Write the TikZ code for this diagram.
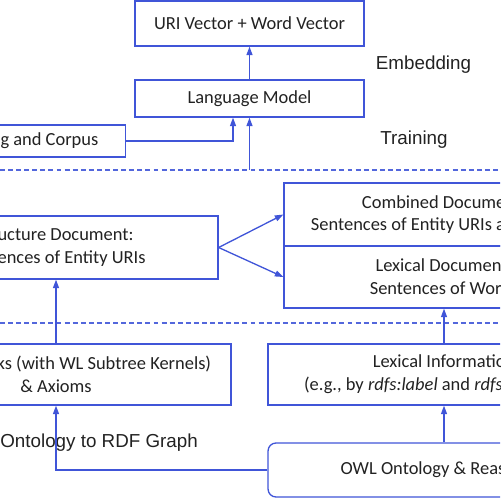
\documentclass[tikz,border=0pt]{standalone}
\usepackage{fontspec}
\setmainfont{Carlito}
\newfontfamily\labelfont{Liberation Sans}
\usetikzlibrary{arrows.meta,positioning,calc}
\definecolor{lineblue}{HTML}{4055D8}
\definecolor{dashblue}{HTML}{5367DC}
\definecolor{inkgray}{HTML}{222222}
\tikzset{
  box/.style={rectangle,draw=lineblue,line width=0.75pt,fill=white,align=center,inner sep=0pt,text=inkgray,font=\fontsize{10.5}{13}\selectfont},
  roundbox/.style={box,rounded corners=0.16cm},
  arrow/.style={-{Triangle[length=1.7mm,width=1.2mm]},line width=0.75pt,lineblue},
  dashline/.style={line width=0.6pt,dashblue,dash pattern=on 2.8pt off 1.8pt},
  stagelabel/.style={font=\labelfont\fontsize{10.7}{13}\selectfont,text=inkgray,inner sep=0pt}
}

\begin{document}
\begin{tikzpicture}[x=0.02cm,y=-0.02cm]
    \useasboundingbox (0,0) rectangle (500,500);
    \clip (0,0) rectangle (500,500);
    % training / embedding part
    \node[box,minimum width=4.58cm,minimum height=0.9cm] (vec) at (249.5,23.5) {URI Vector + Word Vector};
    \node[box,minimum width=4.58cm,minimum height=0.74cm] (lm) at (249.5,98.5) {Language Model};
    \node[box,anchor=east,inner xsep=0.54cm,minimum height=0.64cm] (corpus) at (126,141) {Pre-training and Corpus};
    \node[stagelabel] (embed) at (423.5,65) {Embedding};
    \node[stagelabel] (train) at (414,140) {Training};
    \coordinate (upper) at (249.5,170);
    \draw[dashline] (0,170) -- (500,170);
    % documents
    \node[box,minimum width=6.52cm,minimum height=1.26cm] (sdoc) at (55,247.5) {Structure Document:\\Sentences of Entity URIs};
    \node[box,minimum width=6.4cm,minimum height=1.26cm] (cdoc) at (444,214.5) {Combined Document:\\Sentences of Entity URIs and Words};
    \node[box,minimum width=6.4cm,minimum height=1.24cm] (ldoc) at (444,277) {Lexical Document:\\Sentences of Words};
    \draw[dashline] (0,323) -- (500,323);
    % extraction
    \node[box,minimum width=7cm,minimum height=1.22cm] (graph) at (56,374.5) {Random Walks (with WL Subtree Kernels)\\\& Axioms};
    \node[box,minimum width=7.04cm,minimum height=1.22cm] (lexinfo) at (444,374.5) {Lexical Information\\(e.g., by \textit{rdfs:label} and \textit{rdfs:comment})};
    \node[stagelabel,anchor=west] (proj) at (0,443) {Ontology to RDF Graph};
    \node[roundbox,minimum width=7.04cm,minimum height=1.08cm] (owl) at (444,470) {OWL Ontology \& Reasoning};

    \draw[arrow] (lm) -- (vec);
    \draw[arrow] (upper) -- (lm);
    \draw[arrow] (corpus.east) -| ([xshift=-0.33cm]lm.south);
    \draw[arrow] (sdoc.east) -- (cdoc.west);
    \draw[arrow] (sdoc.east) -- (ldoc.west);
    \draw[arrow] (graph.north) -- (graph.north |- sdoc.south);
    \draw[arrow] (lexinfo) -- (ldoc);
    \draw[arrow] (owl) -- (lexinfo);
    \draw[arrow] (owl.west) -| (graph.south);
  \end{tikzpicture}
\end{document}
